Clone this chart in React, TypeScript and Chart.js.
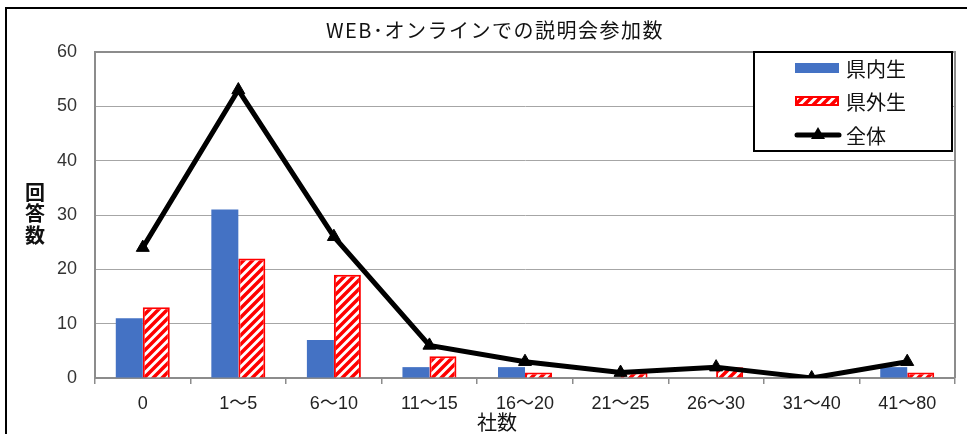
import React, { useEffect, useRef } from "react";
import { Chart, registerables } from "chart.js";

Chart.register(...registerables);

const categories = ["0", "1〜5", "6〜10", "11〜15", "16〜20", "21〜25", "26〜30", "31〜40", "41〜80"];
const inPref = [11, 31, 7, 2, 2, 0, 0, 0, 2];
const outPref = [13, 22, 19, 4, 1, 1, 2, 0, 1];
const total = [24, 53, 26, 6, 3, 1, 2, 0, 3];
const yTicks = [0, 10, 20, 30, 40, 50, 60];

const FONT = '"Liberation Sans", "Noto Sans CJK JP", sans-serif';
const JFONT = '"Noto Sans CJK JP", "Liberation Sans", sans-serif';

function makePattern(): CanvasPattern | string {
  const c = document.createElement("canvas");
  const s = 9;
  c.width = s;
  c.height = s;
  const g = c.getContext("2d");
  if (!g) return "#ff0000";
  g.fillStyle = "#ffffff";
  g.fillRect(0, 0, s, s);
  g.strokeStyle = "#ff0000";
  g.lineWidth = 3.5;
  g.beginPath();
  g.moveTo(0, s);
  g.lineTo(s, 0);
  g.moveTo(-s / 2, s / 2);
  g.lineTo(s / 2, -s / 2);
  g.moveTo(s / 2, s * 1.5);
  g.lineTo(s * 1.5, s / 2);
  g.stroke();
  const p = g.createPattern(c, "repeat");
  return p || "#ff0000";
}

export default function App() {
  const ref = useRef<HTMLCanvasElement>(null);
  useEffect(() => {
    if (!ref.current) return;
    const pattern = makePattern();

    const decor = {
      id: "decor",
      beforeDraw(chart: any) {
        const ctx = chart.ctx;
        ctx.save();
        ctx.fillStyle = "#ffffff";
        ctx.fillRect(0, 0, chart.width, chart.height);
        ctx.strokeStyle = "#000";
        ctx.lineWidth = 2;
        ctx.beginPath();
        ctx.moveTo(6, chart.height + 2);
        ctx.lineTo(6, 8);
        ctx.lineTo(chart.width + 2, 8);
        ctx.stroke();
        ctx.restore();
      },
      afterDraw(chart: any) {
        const ctx = chart.ctx;
        const a = chart.chartArea;
        ctx.save();
        ctx.strokeStyle = "#8c8c8c";
        ctx.lineWidth = 2;
        ctx.beginPath();
        ctx.moveTo(a.left, a.top);
        ctx.lineTo(a.right, a.top);
        ctx.lineTo(a.right, a.bottom);
        ctx.stroke();
        // title
        ctx.fillStyle = "#111";
        ctx.textAlign = "center";
        ctx.textBaseline = "middle";
        ctx.font = `20px ${JFONT}`;
        (ctx as any).letterSpacing = "1.5px";
        ctx.fillText("WEB･オンラインでの説明会参加数", 495, 30);
        (ctx as any).letterSpacing = "0px";
        // x title
        ctx.font = `20px ${JFONT}`;
        ctx.fillText("社数", 497, 422);
        // y title stacked
        ctx.font = `bold 20px ${JFONT}`;
        const yt = ["回", "答", "数"];
        yt.forEach((ch, i) => ctx.fillText(ch, 35, 192 + i * 21.5));
        // legend
        const lx = 754, ly = 52, lw = 198, lh = 99;
        ctx.fillStyle = "#fff";
        ctx.fillRect(lx, ly, lw, lh);
        ctx.strokeStyle = "#000";
        ctx.lineWidth = 2;
        ctx.strokeRect(lx, ly, lw, lh);
        const ds = chart.data.datasets;
        const rows = [ds[1], ds[2], ds[0]];
        const ys = [68, 101, 135];
        ctx.font = `20px ${JFONT}`;
        ctx.textAlign = "left";
        rows.forEach((d: any, i: number) => {
          const y = ys[i];
          if (d.type === "line") {
            ctx.strokeStyle = d.borderColor;
            ctx.lineWidth = 5;
            ctx.lineCap = "round";
            ctx.beginPath();
            ctx.moveTo(797, y);
            ctx.lineTo(839, y);
            ctx.stroke();
            ctx.fillStyle = d.pointBackgroundColor;
            ctx.beginPath();
            ctx.moveTo(818, y - 8);
            ctx.lineTo(825, y + 4);
            ctx.lineTo(811, y + 4);
            ctx.closePath();
            ctx.fill();
          } else {
            ctx.fillStyle = d.backgroundColor;
            ctx.fillRect(795, y - 5, 44, 10);
            if (d.borderWidth) {
              ctx.strokeStyle = d.borderColor;
              ctx.lineWidth = 2;
              ctx.strokeRect(796, y - 4, 42, 8);
            }
          }
          ctx.fillStyle = "#111";
          ctx.fillText(d.label, 846, y + 1);
        });
        ctx.restore();
      },
    };

    const chart = new Chart(ref.current, {
      type: "bar",
      data: {
        labels: categories,
        datasets: [
          {
            type: "line",
            label: "全体",
            data: total,
            borderColor: "#000",
            borderWidth: 5,
            pointStyle: "triangle",
            pointRadius: 7.5,
            pointBackgroundColor: "#000",
            pointBorderColor: "#000",
            pointBorderWidth: 1,
            tension: 0,
            order: 0,
          } as any,
          {
            type: "bar",
            label: "県内生",
            data: inPref,
            backgroundColor: "#4472c4",
            borderWidth: 0,
            barPercentage: 1,
            categoryPercentage: 0.565,
            order: 1,
          },
          {
            type: "bar",
            label: "県外生",
            data: outPref,
            backgroundColor: pattern as any,
            borderColor: "#ff0000",
            borderWidth: 2,
            barPercentage: 1,
            categoryPercentage: 0.565,
            order: 2,
          },
        ],
      },
      options: {
        responsive: false,
        animation: false,
        layout: { padding: { top: 52, right: 12, left: 0, bottom: 0 } },
        plugins: {
          legend: { display: false },
          title: { display: false },
          tooltip: { enabled: false },
        },
        scales: {
          x: {
            offset: true,
            grid: {
              offset: true,
              drawOnChartArea: false,
              drawTicks: true,
              tickLength: 6,
              color: "#8c8c8c",
              lineWidth: 1.5,
            },
            border: { color: "#8c8c8c", width: 2 },
            ticks: {
              font: { size: 18, family: FONT },
              color: "#222",
              padding: 9,
              maxRotation: 0,
              autoSkip: false,
            },
            afterFit(scale: any) {
              scale.height = 56;
            },
          },
          y: {
            min: 0,
            max: 60,
            afterBuildTicks(scale: any) {
              scale.ticks = yTicks.map((v) => ({ value: v }));
            },
            grid: { color: "#a6a6a6", lineWidth: 1, drawTicks: false },
            border: { color: "#8c8c8c", width: 2 },
            ticks: {
              font: { size: 18, family: FONT },
              color: "#333",
              padding: 18,
            },
            afterFit(scale: any) {
              scale.width = 95;
            },
          },
        },
      },
      plugins: [decor],
    });
    return () => chart.destroy();
  }, []);

  return (
    <div style={{ position: "absolute", left: 0, top: 0, width: 967, height: 434 }}>
      <canvas ref={ref} width={967} height={434} style={{ display: "block" }} />
    </div>
  );
}
